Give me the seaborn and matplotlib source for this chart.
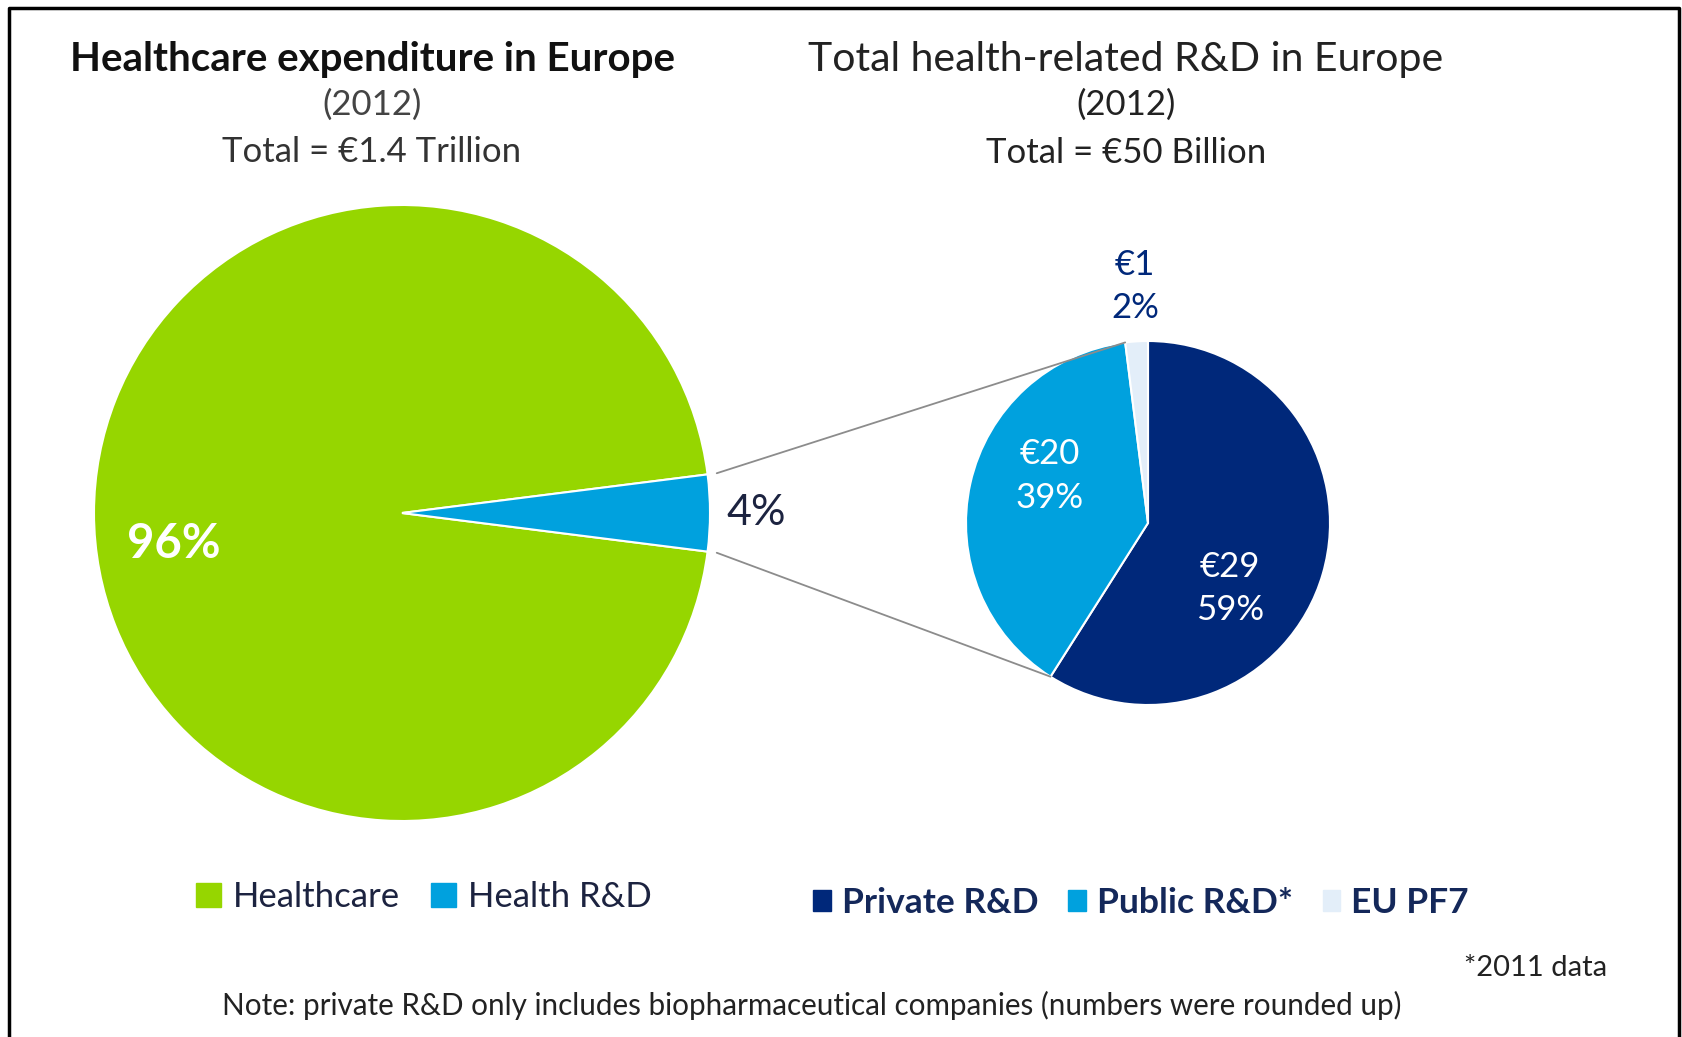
import matplotlib
matplotlib.use("Agg")
import numpy as np
import matplotlib.pyplot as plt
import seaborn as sns
from matplotlib.patches import Patch, ConnectionPatch
from matplotlib.lines import Line2D

# Data
spend_labels = ["Healthcare", "Health R&D"]
spend_share = [96, 4]
rd_labels = ["Private R&D", "Public R&D*", "EU PF7"]
rd_share = [59, 39, 2]
rd_euro = [29, 20, 1]

sns.set_theme(style="white")
plt.rcParams['font.family'] = ['Lato', 'DejaVu Sans']

green, blue, navy, pale = "#96d600", "#00a1de", "#00287a", "#e3eef9"
spend_colors = [green, blue]
rd_colors = [navy, blue, pale]
txt_dark = "#1c2340"

W, H = 1682, 1037
fig = plt.figure(figsize=(W / 100, H / 100), dpi=100)


def box(cx, cy, r):
    # pixel centre/radius -> figure fraction axes rect
    return [(cx - r) / W, 1 - (cy + r) / H, 2 * r / W, 2 * r / H]


ax1 = fig.add_axes(box(402, 513, 308))
ax2 = fig.add_axes(box(1148, 523, 182))

# left pie, the small slice centred on 3 o'clock
start1 = spend_share[1] / 100 * 360 / 2
w1, _ = ax1.pie(spend_share, colors=spend_colors, startangle=start1,
                wedgeprops=dict(edgecolor="white", linewidth=1.5))
# right pie, clockwise from 12 o'clock
w2, _ = ax2.pie(rd_share, colors=rd_colors, startangle=90, counterclock=False,
                wedgeprops=dict(edgecolor="white", linewidth=1.5))
for ax in (ax1, ax2):
    ax.set_xlim(-1, 1)
    ax.set_ylim(-1, 1)

ax1.text(-0.74, -0.10, f"{spend_share[0]}%", color="white", fontsize=34,
         fontweight="bold", ha="center", va="center")
ax1.text(1.15, 0.0, f"{spend_share[1]}%", color=txt_dark, fontsize=31,
         ha="center", va="center")

rd_pos = [(0.45, -0.36), (-0.54, 0.26), (-0.07, 1.30)]
rd_txtcol = ["white", "white", navy]
for i in range(len(rd_share)):
    ax2.text(rd_pos[i][0], rd_pos[i][1], f"€{rd_euro[i]}\n{rd_share[i]}%",
             color=rd_txtcol[i], fontsize=25, ha="center", va="center",
             linespacing=1.45, clip_on=False)

# lines linking the R&D slice to the public R&D edges of the second pie
src = w1[1]
dst = w2[1]
for a_left, a_right in [(src.theta2, dst.theta1), (src.theta1, dst.theta2)]:
    pa = (1.03 * np.cos(np.radians(a_left)), 1.03 * np.sin(np.radians(a_left)))
    pb = (np.cos(np.radians(a_right)), np.sin(np.radians(a_right)))
    con = ConnectionPatch(xyA=pa, coordsA=ax1.transData, xyB=pb,
                          coordsB=ax2.transData, color="#8c8c8c", lw=1.3)
    fig.add_artist(con)

# titles
fig.text(372 / W, 1 - 59 / H, "Healthcare expenditure in Europe", fontsize=29,
         fontweight="bold", color="#111111", ha="center", va="center")
fig.text(372 / W, 1 - 105 / H, "(2012)", fontsize=25, color="#444444",
         ha="center", va="center")
fig.text(372 / W, 1 - 152 / H, "Total = €1.4 Trillion", fontsize=25,
         color="#333333", ha="center", va="center")

fig.text(1126 / W, 1 - 59 / H, "Total health-related R&D in Europe",
         fontsize=29.5, color="#222222", ha="center", va="center")
fig.text(1126 / W, 1 - 105 / H, "(2012)", fontsize=25, color="#222222",
         ha="center", va="center")
fig.text(1126 / W, 1 - 153 / H, "Total = €50 Billion", fontsize=25,
         color="#222222", ha="center", va="center")

# legends
h1 = [Patch(color=c) for c in spend_colors]
leg1 = fig.legend(h1, spend_labels, loc="center", bbox_to_anchor=(424 / W, 1 - 897 / H),
                  ncol=2, frameon=False, fontsize=25, handlelength=0.7, handleheight=0.7,
                  handletextpad=0.35, columnspacing=0.9)
for t in leg1.get_texts():
    t.set_color(txt_dark)

h2 = [Patch(color=c) for c in rd_colors]
leg2 = fig.legend(h2, rd_labels, loc="center", bbox_to_anchor=(1141 / W, 1 - 903 / H),
                  ncol=3, frameon=False, fontsize=25.5, handlelength=0.5, handleheight=0.5,
                  handletextpad=0.3, columnspacing=0.85)
for t in leg2.get_texts():
    t.set_color("#14285a")
    t.set_fontweight("bold")

# footnotes
fig.text(1607 / W, 1 - 968 / H, "*2011 data", fontsize=21, color="#222222",
         ha="right", va="center")
fig.text(812 / W, 1 - 1005 / H,
         "Note: private R&D only includes biopharmaceutical companies (numbers were rounded up)",
         fontsize=21.3, color="#222222", ha="center", va="center")

# frame around the slide (open at the bottom)
fx = [9 / W, 9 / W, 1679 / W, 1679 / W]
fy = [0, 1 - 8 / H, 1 - 8 / H, 0]
fig.add_artist(Line2D(fx, fy, transform=fig.transFigure, color="black", lw=2.5))

fig.savefig("out.png", dpi=100)
